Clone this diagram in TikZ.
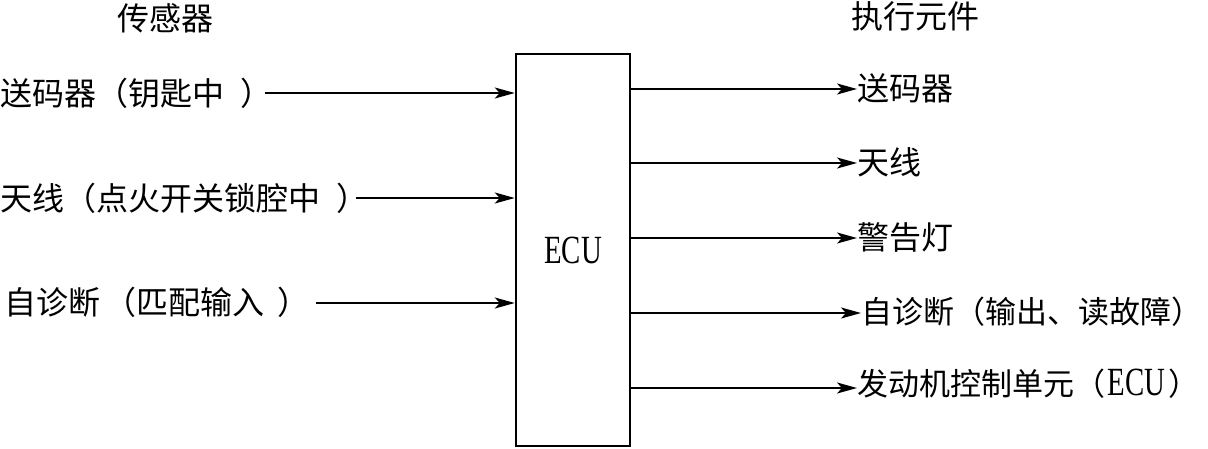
\documentclass[tikz,border=0pt]{standalone}
\usepackage{fontspec}
\newfontfamily\cjk{Noto Sans CJK SC}
\newfontfamily\ecufont[FakeStretch=0.72]{Liberation Serif}
\usetikzlibrary{arrows.meta}
\begin{document}
\begin{tikzpicture}[x=1pt,y=-1pt,
  lbl/.style={inner sep=0pt,font=\fontsize{32}{34}\selectfont\cjk},
  lbls/.style={inner sep=0pt,font=\fontsize{31}{33}\selectfont\cjk},
  conn/.style={line width=2pt,-{Stealth[length=20pt,width=11pt,inset=5pt]}}]
\useasboundingbox (0,0) rectangle (1208,448);
\node[draw,line width=2.5pt,minimum width=114pt,minimum height=392pt,inner sep=0pt] (ecu) at (573,250) {};
\node[font=\fontsize{40}{42}\selectfont\ecufont] (ecut) at (573,250) {ECU};
\node[lbl] (t1) at (165,18) {传感器};
\node[lbl] (t2) at (915,16) {执行元件};
% inputs
\node[lbl,anchor=west] (i1) at (0,93) {送码器（钥匙中\hspace{0.5em}）};
\node[lbl,anchor=west] (i2) at (0,198) {天线（点火开关锁腔中\hspace{0.5em}）};
\node[lbl,anchor=west] (i3) at (4,302) {自诊断\hspace{0.15em}（匹配输入\hspace{0.4em}）};
\coordinate (a1) at (265,93);
\coordinate (a2) at (356,198);
\coordinate (a3) at (316,303);
\draw[conn] (a1) -- (a1 -| ecu.west);
\draw[conn] (a2) -- (a2 -| ecu.west);
\draw[conn] (a3) -- (a3 -| ecu.west);
% outputs
\node[lbl,anchor=west] (o1) at (857,88) {送码器};
\node[lbl,anchor=west] (o2) at (857,162) {天线};
\node[lbl,anchor=west] (o3) at (857,237) {警告灯};
\node[lbls,anchor=west] (o4) at (861,312) {自诊断（输出、读故障）};
\node[lbls,anchor=west] (o5) at (857,384) {发动机控制单元（\hspace{0.08em}{\fontsize{40}{42}\selectfont\ecufont ECU}\hspace{0.1em}）};
\coordinate (b1) at (631,89);
\coordinate (b2) at (631,163);
\coordinate (b3) at (631,238);
\coordinate (b4) at (631,313);
\coordinate (b5) at (631,388);
\draw[conn] (ecu.east |- b1) -- (o1.west |- b1);
\draw[conn] (ecu.east |- b2) -- (o2.west |- b2);
\draw[conn] (ecu.east |- b3) -- (o3.west |- b3);
\draw[conn] (ecu.east |- b4) -- (o4.west |- b4);
\draw[conn] (ecu.east |- b5) -- (o5.west |- b5);
\end{tikzpicture}
\end{document}
